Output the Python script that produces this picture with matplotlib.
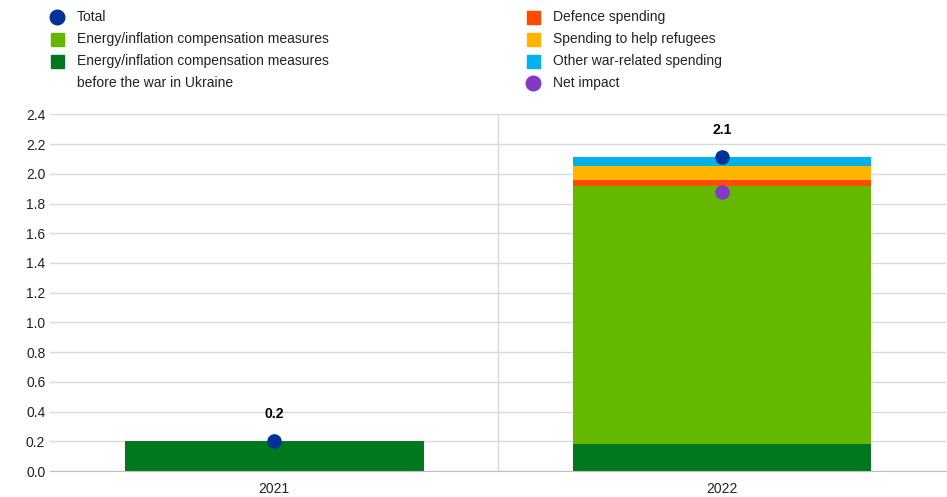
import matplotlib
matplotlib.use("Agg")
import matplotlib.pyplot as plt
from matplotlib.lines import Line2D
from matplotlib.patches import Rectangle

plt.rcParams['font.family'] = ['Liberation Sans', 'DejaVu Sans']

years = ['2021', '2022']
energy_before = [0.20, 0.18]
energy = [0.0, 1.74]
defence = [0.0, 0.04]
refugees = [0.0, 0.095]
other = [0.0, 0.055]
total = [0.20, 2.11]
total_labels = ['0.2', '2.1']
net_impact = [None, 1.88]
yticks = [0.0, 0.2, 0.4, 0.6, 0.8, 1.0, 1.2, 1.4, 1.6, 1.8, 2.0, 2.2, 2.4]

c_total = '#003299'
c_energy = '#65B800'
c_before = '#00781E'
c_def = '#FF4B00'
c_ref = '#FFB400'
c_other = '#00B1EA'
c_net = '#8139C6'

W, H = 947, 497
fig = plt.figure(figsize=(W / 100, H / 100), dpi=100)
ax = fig.add_axes([0.053, 0.052, 0.946, 0.718])

x = list(range(len(years)))
w = 0.667
bottom = [0.0] * len(years)
for vals, col in [(energy_before, c_before), (energy, c_energy), (defence, c_def),
                  (refugees, c_ref), (other, c_other)]:
    ax.bar(x, vals, width=w, bottom=bottom, color=col, zorder=2)
    bottom = [b + v for b, v in zip(bottom, vals)]

ax.scatter(x, total, s=90, color=c_total, zorder=4)
nx = [i for i, v in zip(x, net_impact) if v is not None]
ny = [v for v in net_impact if v is not None]
ax.scatter(nx, ny, s=90, color=c_net, zorder=4)
for i, (t, lab) in enumerate(zip(total, total_labels)):
    ax.annotate(lab, (i, t), xytext=(0, 15), textcoords='offset points',
                ha='center', va='bottom', fontsize=10, fontweight='bold')

ax.set_xlim(-0.5, 1.5)
ax.set_ylim(0, 2.4)
ax.set_yticks(yticks)
ax.set_yticklabels([f'{v:.1f}' for v in yticks])
ax.set_xticks(x)
ax.set_xticklabels(years)
ax.tick_params(length=0, labelsize=10, colors='#222222')
ax.tick_params(axis='x', pad=8)
ax.grid(axis='y', color='#d9d9d9', linewidth=1, zorder=0)
ax.axvline(0.5, color='#d9d9d9', linewidth=1, zorder=0)
for s in ['top', 'right', 'left']:
    ax.spines[s].set_visible(False)
ax.spines['bottom'].set_color('#bfbfbf')

# legend drawn by hand: (kind, colour, label)
col1 = [('o', c_total, 'Total'),
        ('s', c_energy, 'Energy/inflation compensation measures'),
        ('s', c_before, 'Energy/inflation compensation measures\nbefore the war in Ukraine')]
col2 = [('s', c_def, 'Defence spending'),
        ('s', c_ref, 'Spending to help refugees'),
        ('s', c_other, 'Other war-related spending'),
        ('o', c_net, 'Net impact')]

row_px = 22
for x0, entries in [(57, col1), (533, col2)]:
    row = 0
    for kind, col, label in entries:
        yc = 17 + row * row_px
        fx, fy = x0 / W, 1 - yc / H
        if kind == 'o':
            fig.add_artist(Line2D([fx], [fy], marker='o', markersize=10.5, color=col,
                                  linestyle='', transform=fig.transFigure))
        else:
            fig.add_artist(Rectangle(((x0 - 6.5) / W, fy - 6.5 / H), 13 / W, 13 / H,
                                     color=col, transform=fig.transFigure))
        for line in label.split('\n'):
            fig.text((x0 + 20) / W, 1 - (17 + row * row_px) / H, line,
                     fontsize=10, va='center', ha='left', color='#222222')
            row += 1

fig.savefig('out.png', dpi=100)
